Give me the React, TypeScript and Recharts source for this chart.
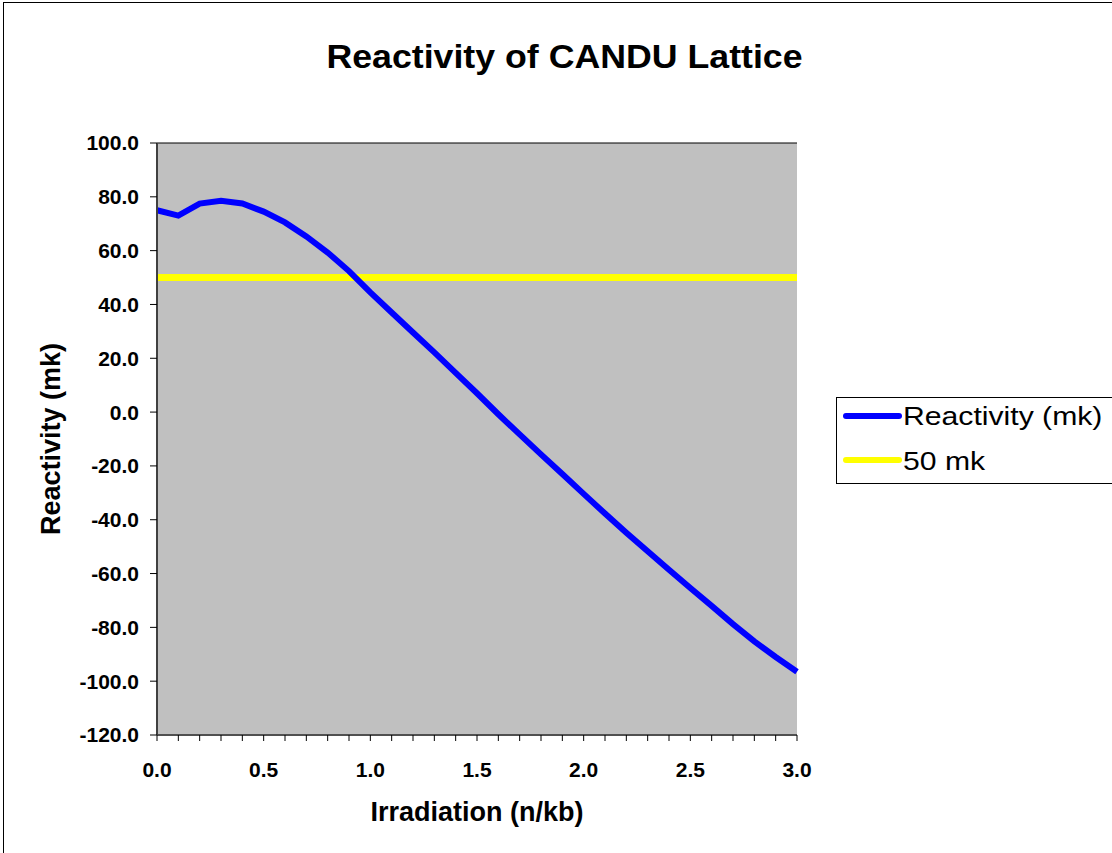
import { LineChart, Line, XAxis, YAxis, CartesianGrid } from "recharts";

// Irradiation (n/kb) steps and reactivity (mk)
const irradiation = [
  0.0, 0.1, 0.2, 0.3, 0.4, 0.5, 0.6, 0.7, 0.8, 0.9, 1.0, 1.1, 1.2, 1.3, 1.4, 1.5,
  1.6, 1.7, 1.8, 1.9, 2.0, 2.1, 2.2, 2.3, 2.4, 2.5, 2.6, 2.7, 2.8, 2.9, 3.0,
];
const reactivity = [
  75.0, 73.0, 77.5, 78.5, 77.5, 74.5, 70.5, 65.3, 59.3, 52.4, 44.5, 37.0, 29.6, 22.2,
  14.6, 7.0, -0.8, -8.3, -15.7, -23.0, -30.4, -37.7, -44.8, -51.7, -58.6, -65.4, -72.0,
  -78.8, -85.2, -91.0, -96.5,
];
const limitX = [0.0, 3.0];
const limitValues = [50, 50];

const yTicks = [-120, -100, -80, -60, -40, -20, 0, 20, 40, 60, 80, 100];
const xTicks = irradiation;

const data = irradiation.map((x, i) => ({ x, reactivity: reactivity[i] }));
const limitData = limitX.map((x, i) => ({ x, limit: limitValues[i] }));

const FONT = "'Liberation Sans', Arial, sans-serif";

export default function App() {
  return (
    <div style={{ position: "absolute", left: 0, top: 0, width: 1112, height: 853, background: "#fff", fontFamily: FONT, overflow: "hidden" }}>
      <div style={{ position: "absolute", left: 3, top: 2, width: 1109, height: 851, borderLeft: "1px solid #000", borderTop: "1px solid #000", boxSizing: "border-box" }} />

      <div style={{ position: "absolute", left: 0, top: 34, width: 1129, textAlign: "center", fontSize: 34, fontWeight: "bold", lineHeight: "44px", transform: "scaleX(1.05)", transformOrigin: "564.5px 0" }}>
        Reactivity of CANDU Lattice
      </div>

      <div style={{ position: "absolute", left: 157, top: 797, width: 640, textAlign: "center", fontSize: 27, fontWeight: "bold", lineHeight: "30px" }}>
        Irradiation (n/kb)
      </div>

      <div style={{ position: "absolute", left: 51, top: 439, width: 0, height: 0 }}>
        <div style={{ position: "absolute", left: -150, top: -15, width: 300, textAlign: "center", fontSize: 27, fontWeight: "bold", lineHeight: "30px", transform: "rotate(-90deg)" }}>
          Reactivity (mk)
        </div>
      </div>

      <div style={{ position: "absolute", left: 0, top: 0 }}>
        <LineChart width={1112} height={853} margin={{ top: 143, right: 315, bottom: 78, left: 97 }}>
          <CartesianGrid vertical={false} stroke="#000" fill="#c0c0c0" strokeOpacity={1} />
          <XAxis
            dataKey="x"
            type="number"
            domain={[0, 3]}
            ticks={xTicks}
            interval={0}
            height={40}
            tickSize={6}
            tickMargin={21}
            axisLine={{ stroke: "#505050", strokeWidth: 2 }}
            tickLine={{ stroke: "#000" }}
            tick={{ fill: "#000", fontSize: 21, fontWeight: "bold", fontFamily: FONT }}
            tickFormatter={(v: number) => (Math.round(v * 10) % 5 === 0 ? v.toFixed(1) : "")}
            allowDuplicatedCategory={false}
          />
          <YAxis
            yAxisId="left"
            type="number"
            domain={[-120, 100]}
            ticks={yTicks}
            interval={0}
            width={60}
            tickSize={7}
            tickMargin={11}
            axisLine={{ stroke: "#404040", strokeWidth: 2 }}
            tickLine={{ stroke: "#000" }}
            tick={{ fill: "#000", fontSize: 21, fontWeight: "bold", fontFamily: FONT }}
            tickFormatter={(v: number) => v.toFixed(1)}
          />
          <YAxis
            yAxisId="right"
            orientation="right"
            type="number"
            domain={[-120, 100]}
            width={0}
            tick={false}
            tickLine={false}
            axisLine={{ stroke: "#909090", strokeWidth: 2 }}
          />
          <Line
            yAxisId="left"
            data={limitData}
            dataKey="limit"
            type="linear"
            stroke="#ffff00"
            strokeWidth={7}
            dot={false}
            isAnimationActive={false}
          />
          <Line
            yAxisId="left"
            data={data}
            dataKey="reactivity"
            type="linear"
            stroke="#0000ff"
            strokeWidth={6}
            dot={false}
            isAnimationActive={false}
          />
        </LineChart>
      </div>

      <div style={{ position: "absolute", left: 836, top: 397, width: 300, height: 87, borderLeft: "1px solid #000", borderTop: "1px solid #000", borderBottom: "1px solid #000", boxSizing: "border-box", background: "#fff" }}>
        <svg width={66} height={87} style={{ position: "absolute", left: 0, top: 0 }}>
          <line x1={9} y1={18} x2={62} y2={18} stroke="#0000ff" strokeWidth={6} strokeLinecap="round" />
          <line x1={9} y1={62} x2={62} y2={62} stroke="#ffff00" strokeWidth={6} strokeLinecap="round" />
        </svg>
        <div style={{ position: "absolute", left: 66, top: 3, fontSize: 26, lineHeight: "30px", whiteSpace: "nowrap", transform: "scaleX(1.16)", transformOrigin: "0 0" }}>Reactivity (mk)</div>
        <div style={{ position: "absolute", left: 66, top: 48, fontSize: 26, lineHeight: "30px", whiteSpace: "nowrap", transform: "scaleX(1.16)", transformOrigin: "0 0" }}>50 mk</div>
      </div>
    </div>
  );
}
